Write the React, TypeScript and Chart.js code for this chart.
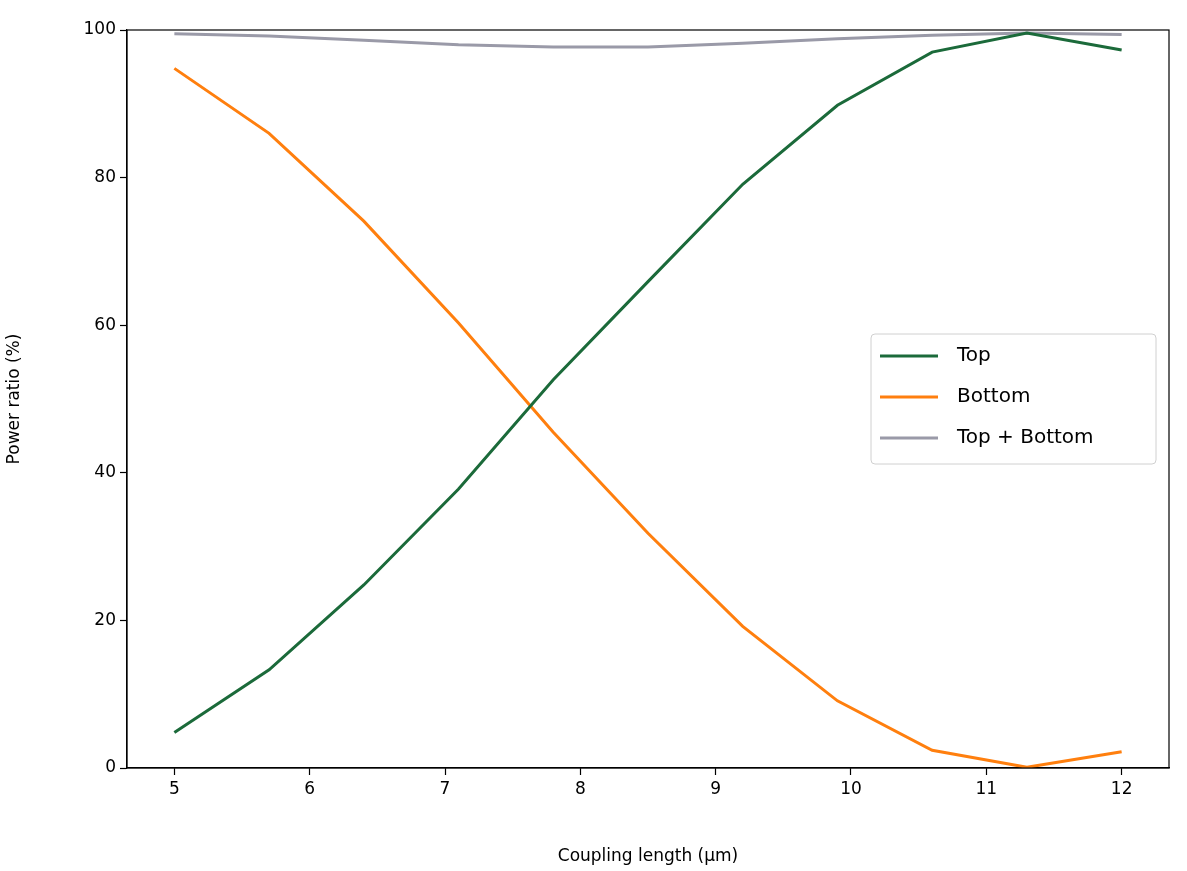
import React, { useEffect, useRef } from "react";
import { Chart, registerables } from "chart.js";
Chart.register(...registerables);

const lengths = [5, 5.7, 6.4, 7.1, 7.8, 8.5, 9.2, 9.9, 10.6, 11.3, 12];
const topVals = [4.8, 13.3, 24.8, 37.8, 52.6, 65.9, 79.1, 89.8, 97.0, 99.6, 97.3];
const bottomVals = [94.8, 86.0, 74.1, 60.3, 45.5, 31.8, 19.2, 9.1, 2.4, 0.1, 2.2];
const sumVals = [99.5, 99.2, 98.6, 98.0, 97.7, 97.7, 98.2, 98.8, 99.3, 99.6, 99.4];
const xTicks = [5, 6, 7, 8, 9, 10, 11, 12];
const yTicks = [0, 20, 40, 60, 80, 100];
const names = ["Top", "Bottom", "Top + Bottom"];
const colors = ["#1b6a3a", "#ff7f0e", "#9a9aa8"];

const FONT = "'DejaVu Sans', sans-serif";

export default function App() {
  const ref = useRef<HTMLCanvasElement>(null);
  useEffect(() => {
    document.body.style.margin = "0";
    const series = [topVals, bottomVals, sumVals];
    const framePlugin = {
      id: "frame",
      afterDraw(c: any) {
        const { ctx, chartArea: a } = c;
        ctx.save();
        ctx.strokeStyle = "#000";
        ctx.lineWidth = 1.2;
        ctx.strokeRect(a.left, a.top, a.right - a.left, a.bottom - a.top);
        // legend
        const lx = 871, ly = 334, lw = 285, lh = 130;
        ctx.fillStyle = "rgba(255,255,255,0.8)";
        ctx.strokeStyle = "#d0d0d0";
        ctx.lineWidth = 1;
        ctx.beginPath();
        (ctx as any).roundRect(lx, ly, lw, lh, 4);
        ctx.fill();
        ctx.stroke();
        ctx.font = `20px ${FONT}`;
        ctx.textBaseline = "middle";
        names.forEach((n, i) => {
          const y = ly + 22 + i * 41;
          ctx.strokeStyle = colors[i];
          ctx.lineWidth = 3;
          ctx.beginPath();
          ctx.moveTo(lx + 9, y);
          ctx.lineTo(lx + 67, y);
          ctx.stroke();
          ctx.fillStyle = "#000";
          ctx.fillText(n, lx + 86, y);
        });
        ctx.restore();
      },
    };
    const chart = new Chart(ref.current!, {
      type: "line",
      data: {
        datasets: series.map((s, i) => ({
          label: names[i],
          data: lengths.map((x, j) => ({ x, y: s[j] })),
          borderColor: colors[i],
          borderWidth: 3,
          pointRadius: 0,
          tension: 0,
          fill: false,
        })),
      },
      options: {
        animation: false,
        responsive: false,
        layout: { padding: { top: 30, right: 18, left: 0, bottom: 0 } },
        plugins: { legend: { display: false }, tooltip: { enabled: false } },
        scales: {
          x: {
            type: "linear",
            min: 4.65,
            max: 12.35,
            afterBuildTicks: (s: any) => { s.ticks = xTicks.map((v) => ({ value: v })); },
            afterFit: (s: any) => { s.height = 103; },
            grid: { display: true, drawOnChartArea: false, tickLength: 7, color: "#000", tickWidth: 1.2 },
            border: { display: true, color: "#000", width: 1.2 },
            ticks: { color: "#000", font: { family: FONT, size: 17 }, padding: 4, maxRotation: 0 },
            title: { display: true, text: "Coupling length (µm)", color: "#000", font: { family: FONT, size: 17 }, padding: { top: 6 } },
          },
          y: {
            min: 0,
            max: 100,
            afterBuildTicks: (s: any) => { s.ticks = yTicks.map((v) => ({ value: v })); },
            afterFit: (s: any) => { s.width = 127; },
            grid: { display: true, drawOnChartArea: false, tickLength: 7, color: "#000", tickWidth: 1.2 },
            border: { display: true, color: "#000", width: 1.2 },
            ticks: { color: "#000", font: { family: FONT, size: 17 }, padding: 4 },
            title: { display: true, text: "Power ratio (%)", color: "#000", font: { family: FONT, size: 17 }, padding: { bottom: 8 } },
          },
        },
      },
      plugins: [framePlugin],
    } as any);
    return () => chart.destroy();
  }, []);
  return <canvas ref={ref} width={1187} height={871} style={{ display: "block" }} />;
}
